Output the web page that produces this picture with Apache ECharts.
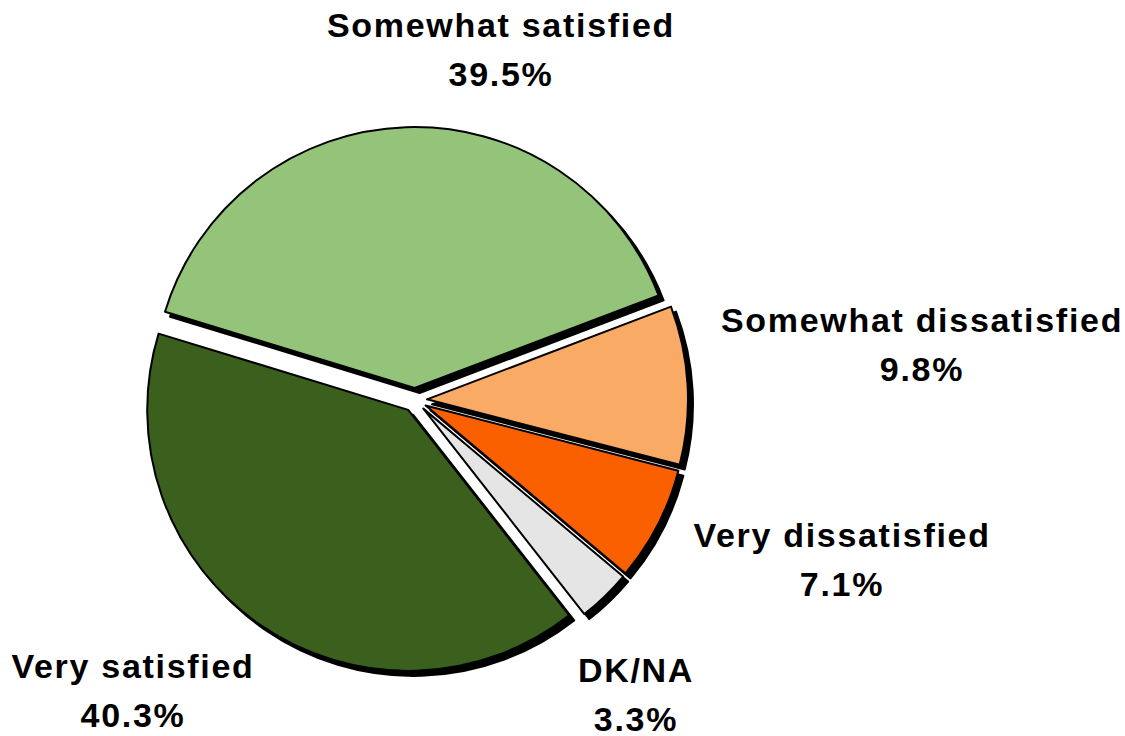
<!DOCTYPE html>
<html>
<head>
<meta charset="utf-8">
<script src="https://cdn.jsdelivr.net/npm/echarts@6/dist/echarts.min.js"></script>
<style>
  html, body { margin: 0; padding: 0; background: #fff; }
  #chart { width: 1125px; height: 736px; }
  #chart text { letter-spacing: 1.7px; }
</style>
</head>
<body>
<div id="chart"></div>
<script>
// Data
const categories = ['Somewhat satisfied', 'Somewhat dissatisfied', 'Very dissatisfied', 'DK/NA', 'Very satisfied'];
const values = [39.5, 9.8, 7.1, 3.3, 40.3];
const colors = ['#93C47A', '#F9AB66', '#FA5E00', '#E5E5E5', '#3B5E1E'];
// Label anchor points (layout only, block centres)
const labelAnchors = [[501, 49], [922, 344], [842, 559], [636, 694], [133, 690]];

const chart = echarts.init(document.getElementById('chart'), null, { renderer: 'svg' });

const data = categories.map((name, i) => ({
  name: name,
  value: values[i],
  selected: true,
  itemStyle: { color: colors[i] }
}));

const labelFont = 'bold 34px "Liberation Sans", Arial, sans-serif';
const labels = categories.map((name, i) => ({
  type: 'text',
  x: labelAnchors[i][0],
  y: labelAnchors[i][1],
  silent: true,
  style: {
    text: name + '\n' + values[i].toFixed(1) + '%',
    font: labelFont,
    lineHeight: 49,
    fill: '#000',
    textAlign: 'center',
    textVerticalAlign: 'middle'
  }
}));

chart.setOption({
  animation: false,
  backgroundColor: '#ffffff',
  graphic: { elements: labels },
  series: [{
    type: 'pie',
    center: [415, 400],
    radius: 261,
    startAngle: 163,
    clockwise: true,
    selectedMode: 'multiple',
    selectedOffset: 12,
    avoidLabelOverlap: false,
    data: data,
    itemStyle: {
      borderColor: '#000',
      borderWidth: 2,
      shadowColor: '#000',
      shadowBlur: 0,
      shadowOffsetX: 5,
      shadowOffsetY: 5
    },
    label: { show: false },
    labelLine: { show: false },
    emphasis: { disabled: true }
  }]
});
</script>
</body>
</html>
